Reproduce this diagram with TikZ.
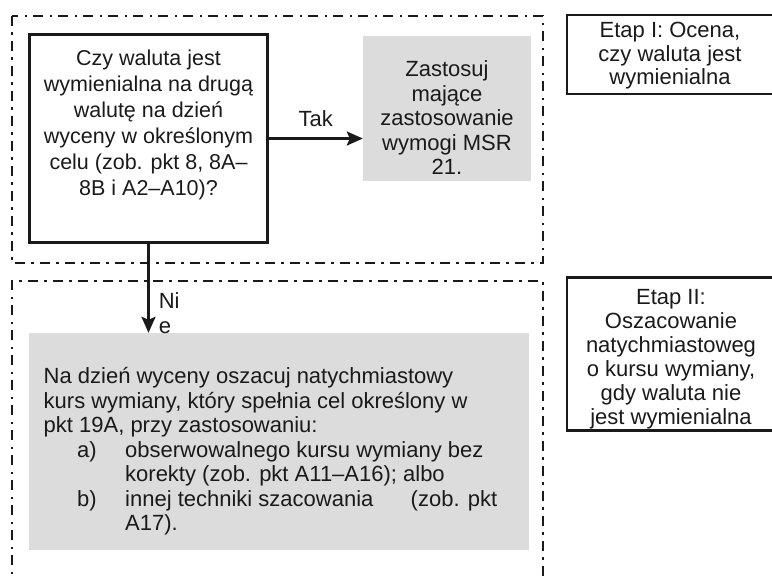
\documentclass[tikz,border=0pt]{standalone}
\usepackage{fontspec}
\setmainfont{Liberation Sans}
\usepackage{xcolor}
\usetikzlibrary{arrows.meta}

\definecolor{boxgrey}{HTML}{DCDCDC}
\definecolor{ink}{HTML}{1A1A1A}

\begin{document}
\begin{tikzpicture}[x=1pt, y=-1pt,
  every node/.style={font=\fontsize{22}{24.5}\selectfont, text=ink, inner sep=0pt},
  frame/.style={draw=ink, line width=2.2pt, dash pattern=on 10pt off 6pt on 2.5pt off 6.5pt},
  question/.style={draw=ink, line width=2.5pt},
  result/.style={fill=boxgrey},
  stage/.style={draw=ink, line width=2.5pt},
  flow/.style={draw=ink, line width=2.5pt, -{Stealth[length=16pt, width=14pt, inset=3pt]}}]
  \useasboundingbox (0,0) rectangle (772,576);
  \clip (0,0) rectangle (772,576);

  % Stage frames
  \draw[frame] (12,16) rectangle (543,263);
  \draw[frame] (12,590) -- (12,281) -- (543,281) -- (543,590);

  % Boxes
  \node (ask) [question, minimum width=238pt, minimum height=208pt] at (148.5,138.5) {};
  \node (asktext) [align=center, font=\fontsize{21.5}{26}\selectfont] at (148.5,125.4)
    {Czy waluta jest\\ wymienialna na drugą\\ walutę na dzień\\ wyceny w określonym\\ celu (zob. pkt 8, 8A–\\ 8B i A2–A10)?};
  \node (apply) [result, minimum width=168pt, minimum height=145pt] at (447,108) {};
  \node (applytext) [align=center] at (447,118)
    {Zastosuj\\ mające\\ zastosowanie\\ wymogi MSR\\ 21.};
  \node (estimate) [result, minimum width=500pt, minimum height=217pt] at (279,441.5) {};
  \node (estimatetext) [align=left, anchor=north west] at (43.5,367.5)
    {Na dzień wyceny oszacuj natychmiastowy\\
     kurs wymiany, który spełnia cel określony w\\
     pkt 19A, przy zastosowaniu:\\
     \hspace*{33.5pt}\makebox[48pt][l]{a)}obserwowalnego kursu wymiany bez\\
     \hspace*{81.5pt}korekty (zob. pkt A11–A16); albo\\
     \hspace*{33.5pt}\makebox[48pt][l]{b)}\makebox[372pt][l]{innej techniki szacowania\hfill(zob. pkt}\\
     \hspace*{81.5pt}A17).};

  % Stage descriptions
  \node (stage1) [stage, minimum width=208pt, minimum height=79pt] at (671,54.5) {};
  \node (stage1text) [align=center, font=\fontsize{22}{23.5}\selectfont] at (670,56)
    {Etap I: Ocena,\\ czy waluta jest\\ wymienialna};
  \node (stage2) [stage, minimum width=208pt, minimum height=153pt] at (671,354) {};
  \node (stage2text) [align=center, font=\fontsize{22}{24}\selectfont] at (671,359)
    {Etap II:\\ Oszacowanie\\ natychmiastoweg\\ o kursu wymiany,\\ gdy waluta nie\\ jest wymienialna};

  % Draw edges
  \draw[flow] (ask.east) -- (ask.east -| apply.west)
    node (yes) [midway, above=11pt, anchor=south] {Tak};
  \draw[flow] (ask.south) -- (ask.south |- estimate.north)
    node (no) [pos=0.78, right=9pt, align=left, font=\fontsize{22}{25}\selectfont] {Ni\\e};
\end{tikzpicture}
\end{document}
